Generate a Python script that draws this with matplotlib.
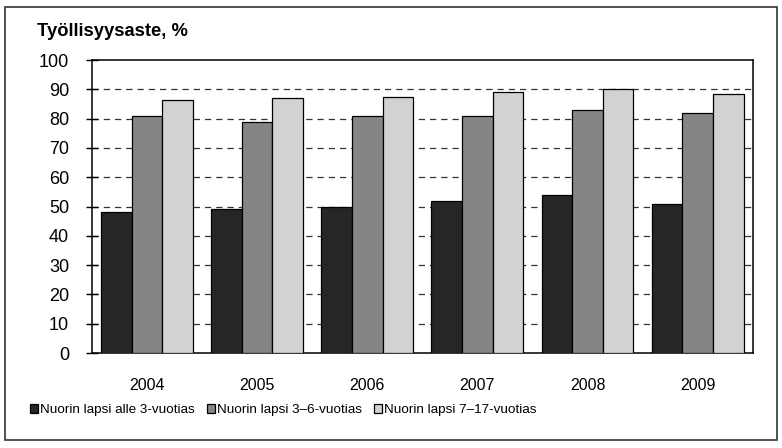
import numpy as np
import matplotlib
matplotlib.use("Agg")
import matplotlib.pyplot as plt
from matplotlib.patches import Rectangle

plt.rcParams['font.family'] = ['Liberation Sans', 'DejaVu Sans']

# Data
years = ['2004', '2005', '2006', '2007', '2008', '2009']
labels = ['Nuorin lapsi alle 3-vuotias', 'Nuorin lapsi 3\u20136-vuotias',
          'Nuorin lapsi 7\u201317-vuotias']
alle3 = [48, 49, 50, 52, 54, 51]
v3_6 = [81, 79, 81, 81, 83, 82]
v7_17 = [86.5, 87, 87.5, 89, 90, 88.5]

series = [alle3, v3_6, v7_17]
colors = ['#262626', '#858585', '#d2d2d2']

fig = plt.figure(figsize=(7.82, 4.48), dpi=100)
ax = fig.add_axes([0.1176, 0.212, 0.845, 0.654])

x = np.arange(len(years))
w = 0.278
for i, (vals, col, lab) in enumerate(zip(series, colors, labels)):
    ax.bar(x + (i - 1) * w, vals, w, color=col, edgecolor='black',
           linewidth=0.9, label=lab, zorder=3)

ax.set_xlim(-0.5, len(years) - 0.5)
ax.set_ylim(0, 100)
ax.set_yticks(range(0, 101, 10))
ax.set_xticks(x)
ax.set_xticklabels(years, fontsize=11.5)
ax.tick_params(axis='y', direction='inout', length=9, width=1, labelsize=13, pad=12)
ax.tick_params(axis='x', length=0, pad=18)

for yv in range(10, 100, 10):
    ax.axhline(yv, color='#333333', linestyle=(0, (5, 4)), linewidth=0.9, zorder=1)

for s in ax.spines.values():
    s.set_linewidth(1.1)
    s.set_color('black')

fig.text(37 / 782, 1 - 31 / 448, 'Työllisyysaste, %', fontsize=13.2, fontweight='bold',
         va='center', ha='left')

fig.legend(loc='center left', bbox_to_anchor=(18 / 782, 1 - 410 / 448), ncol=3,
           frameon=False, fontsize=9.7, handlelength=0.6, handleheight=0.6,
           handletextpad=0.15, columnspacing=0.9)

# outer frame
fig.patches.append(Rectangle((5 / 782, 8 / 448), 772 / 782, 433 / 448,
                             transform=fig.transFigure, fill=False,
                             edgecolor='#333333', linewidth=1.2))

fig.savefig('out.png', dpi=100)
